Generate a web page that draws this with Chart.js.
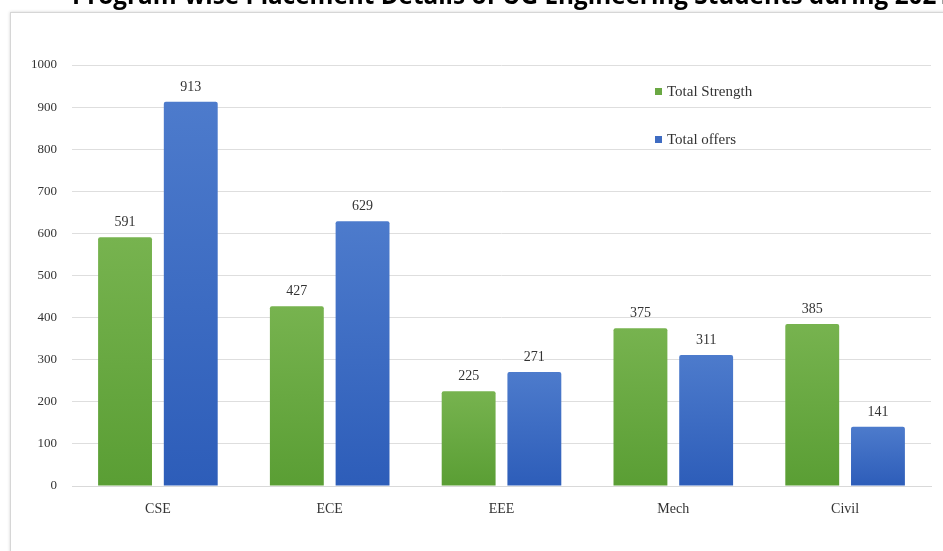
<!DOCTYPE html>
<html>
<head>
<meta charset="utf-8">
<script src="https://cdn.jsdelivr.net/npm/chart.js@4.4.1/dist/chart.umd.min.js"></script>
<style>
html, body { margin:0; padding:0; background:#fff; overflow:hidden; }
#wrap { position:relative; width:943px; height:551px; }
#frame {
    position:absolute; left:10px; top:12px;
    width:1200px; height:800px;
    border:1px solid #d6d6d6;
    box-shadow:0 0 3px rgba(0,0,0,0.18);
}
#chart { position:absolute; left:0; top:0; }
</style>
</head>
<body>
<div id="wrap">
    <div id="frame"></div>
    <canvas id="chart" width="943" height="551"></canvas>
</div>

<script>
// ============================================
// Data
// ============================================

const chartTitle = "Program-wise Placement Details of UG Engineering Students during 2021-22";

const programs = ["CSE", "ECE", "EEE", "Mech", "Civil"];

const totalStrength = [591, 427, 225, 375, 385];

const totalOffers = [913, 629, 271, 311, 141];

const yTicks = [0, 100, 200, 300, 400, 500, 600, 700, 800, 900, 1000];


// ============================================
// Helpers
// ============================================

// vertical gradient for each bar, lighter at the top
function barGradient(top, bottom) {
    return function (ctx) {
        const chart = ctx.chart;
        const y = chart.scales && chart.scales.y;
        if (!chart.chartArea || !y || ctx.parsed === undefined) return bottom;
        const y0 = y.getPixelForValue(ctx.parsed.y);
        const y1 = y.getPixelForValue(0);
        const g = chart.ctx.createLinearGradient(0, y0, 0, y1 + 0.01);
        g.addColorStop(0, top);
        g.addColorStop(1, bottom);
        return g;
    };
}

const serif = "'Liberation Serif', 'Times New Roman', serif";
const textColor = "#333333";


// ============================================
// Plugins
// ============================================

const titlePlugin = {
    id: "clippedTitle",
    afterDraw(chart) {
        const c = chart.ctx;
        c.save();
        c.font = "700 24.3px 'Open Sans', sans-serif";
        c.fillStyle = "#000";
        c.textBaseline = "alphabetic";
        c.textAlign = "left";
        c.fillText(chartTitle, 72, 4);
        c.restore();
    }
};

const valueLabels = {
    id: "valueLabels",
    afterDatasetsDraw(chart) {
        const c = chart.ctx;
        c.save();
        c.font = "14px " + serif;
        c.fillStyle = textColor;
        c.textAlign = "center";
        c.textBaseline = "alphabetic";
        chart.data.datasets.forEach((ds, i) => {
            const meta = chart.getDatasetMeta(i);
            meta.data.forEach((bar, j) => {
                c.fillText(String(ds.data[j]), bar.x, bar.y - 11);
            });
        });
        c.restore();
    }
};

const insideLegend = {
    id: "insideLegend",
    afterDraw(chart) {
        const c = chart.ctx;
        const x = 655;
        const rows = [92, 140];
        c.save();
        c.font = "15px " + serif;
        c.textBaseline = "middle";
        c.textAlign = "left";
        chart.data.datasets.forEach((ds, i) => {
            c.fillStyle = ds.legendColor;
            c.fillRect(x, rows[i] - 4, 7, 7);
            c.fillStyle = textColor;
            c.fillText(ds.label, x + 12, rows[i]);
        });
        c.restore();
    }
};


// ============================================
// Chart
// ============================================

new Chart(document.getElementById("chart"), {
    type: "bar",
    data: {
        labels: programs,
        datasets: [
            {
                label: "Total Strength",
                data: totalStrength,
                backgroundColor: barGradient("#77b34f", "#5a9e34"),
                legendColor: "#6aa843",
                borderRadius: 2,
                borderSkipped: "bottom",
                barPercentage: 0.82,
                categoryPercentage: 0.765
            },
            {
                label: "Total offers",
                data: totalOffers,
                backgroundColor: barGradient("#4d7bcc", "#2d5db9"),
                legendColor: "#3f6cc2",
                borderRadius: 2,
                borderSkipped: "bottom",
                barPercentage: 0.82,
                categoryPercentage: 0.765
            }
        ]
    },
    options: {
        responsive: false,
        animation: false,
        devicePixelRatio: 1,
        layout: {
            padding: { top: 65, right: 12, bottom: 0, left: 0 }
        },
        plugins: {
            legend: { display: false },
            title: { display: false },
            tooltip: { enabled: false }
        },
        scales: {
            x: {
                grid: { display: false, drawTicks: false },
                border: { display: true, color: "#d9d9d9", width: 1 },
                ticks: {
                    font: { family: serif, size: 14 },
                    color: textColor,
                    padding: 15,
                    maxRotation: 0
                },
                afterFit(scale) { scale.height = 65; }
            },
            y: {
                min: 0,
                max: 1000,
                afterBuildTicks(scale) {
                    scale.ticks = yTicks.map(v => ({ value: v }));
                },
                grid: { color: "#dedede", lineWidth: 1, drawTicks: false },
                border: { display: false },
                ticks: {
                    font: { family: serif, size: 13 },
                    color: textColor,
                    padding: 15,
                    callback: v => String(v)
                },
                afterFit(scale) { scale.width = 72; }
            }
        }
    },
    plugins: [titlePlugin, valueLabels, insideLegend]
});
</script>
</body>
</html>
